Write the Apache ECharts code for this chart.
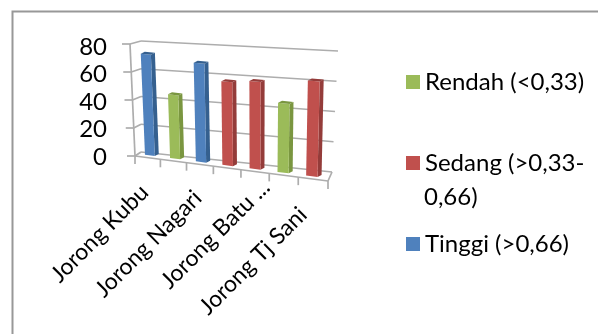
<!DOCTYPE html>
<html>
<head>
<meta charset="utf-8">
<style>html,body{margin:0;padding:0;background:#fff}#c{width:598px;height:334px}</style>
<script src="https://cdn.jsdelivr.net/npm/echarts@6/dist/echarts.min.js"></script>
</head>
<body>
<div id="c"></div>
<script>
// Categories along the depth-skewed floor; only every other one carries a label.
const categories = ['Jorong Kubu', 'b2', 'Jorong Nagari', 'b4', 'Jorong Batu ...', 'b6', 'Jorong Tj Sani'];
const xLabels = ['Jorong Kubu', '', 'Jorong Nagari', '', 'Jorong Batu ...', '', 'Jorong Tj Sani'];
const rendah = [null, 45, null, null, null, 47, null];
const sedang = [null, null, null, 58, 60, null, 64];
const tinggi = [72, null, 69, null, null, null, null];
const yTicks = [0, 20, 40, 60, 80];

const FONT = 'Lato';
const FONT_SIZE = 24;
const gridBox = { left: 140, top: 47, width: 189, height: 110 };
// Hand placement of the slanted category labels, in pixels from the floor tick.
const labelNudge = { 0: [-3, 31], 2: [-2, 30], 4: [11, 12], 6: [-10, 32] };

// A plane is a four-corner quad; (t, s) in the unit square is mapped bilinearly on it.
// The horizontal coordinate is bent a little so spacing widens toward the viewer.
function planeMap(lb, rb, lt, rt) {
  return function (t0, s) {
    const t = t0 - 0.092 * t0 * (1 - t0);
    const bx = lb[0] + (rb[0] - lb[0]) * t, by = lb[1] + (rb[1] - lb[1]) * t;
    const tx = lt[0] + (rt[0] - lt[0]) * t, ty = lt[1] + (rt[1] - lt[1]) * t;
    return [bx + (tx - bx) * s, by + (ty - by) * s];
  };
}
const barPlane = planeMap([137.5, 153.75], [326.5, 178.25], [132.5, 42], [329.5, 58.5]);
const backWall = planeMap([141, 152], [332, 172], [141, 41], [338, 51]);
const sideWall = planeMap([135, 156], [141, 152], [130, 44], [141, 41]);
const floorTop = planeMap([135, 156], [328, 181], [141, 152], [332, 172]);

// Converts a data pair to unit-square coordinates through the cartesian axes.
function toUnit(api, params, cat, val) {
  const p = api.coord([cat, val]);
  const cs = params.coordSys;
  return [(p[0] - cs.x) / cs.width, (cs.y + cs.height - p[1]) / cs.height];
}

function poly(points, fill) {
  return { type: 'polygon', shape: { points: points }, style: { fill: fill, stroke: null } };
}
function seg(a, b, color, w) {
  return { type: 'line', shape: { x1: a[0], y1: a[1], x2: b[0], y2: b[1] }, style: { stroke: color, lineWidth: w } };
}

// Draws one bar as a front face, right side and top cap.
function barRenderer(front, side) {
  return function (params, api) {
    const cat = api.value(0), val = api.value(1);
    const b = toUnit(api, params, cat, 0), h = toUnit(api, params, cat, val);
    const half = 5.3 / gridBox.width;
    const bl = barPlane(b[0] - half, 0), br = barPlane(b[0] + half, 0);
    const tl = barPlane(b[0] - half, h[1]), tr = barPlane(b[0] + half, h[1]);
    const dx = 4, dy = -2;
    const off = p => [p[0] + dx, p[1] + dy];
    return {
      type: 'group',
      children: [
        poly([br, tr, off(tr), off(br)], side),
        poly([bl, br, tr, tl], front),
        poly([tl, tr, off(tr), off(tl)], side)
      ]
    };
  };
}

// Wall gridlines, floor outline, tick marks and the slanted category labels.
function frameRenderer(params, api) {
  const GRID = '#adadad', W = 1.7, n = categories.length, kids = [];
  yTicks.forEach(v => {
    const s = toUnit(api, params, 0, v)[1];
    kids.push(seg(backWall(0, s), backWall(1, s), GRID, W));
    kids.push(seg(sideWall(0, s), sideWall(1, s), GRID, W));
    const a = sideWall(0, s);
    kids.push(seg([a[0] - 8, a[1]], a, GRID, W));
  });
  kids.push(seg(sideWall(0, 0), sideWall(0, 1), GRID, W));
  kids.push(seg(floorTop(0, 0), floorTop(1, 0), GRID, W));
  kids.push(seg(floorTop(1, 0), floorTop(1, 1), GRID, W));
  for (let i = 0; i <= n; i++) {
    const t = (toUnit(api, params, i < n ? i : n - 1, 0)[0] * gridBox.width + (i < n ? -13.5 : 13.5)) / gridBox.width;
    const p = floorTop(t, 0);
    kids.push(seg(p, [p[0], p[1] + 8], GRID, W));
  }
  xLabels.forEach((label, i) => {
    if (!label) return;
    const t = toUnit(api, params, i, 0)[0];
    const p = floorTop(t, 0);
    const nudge = labelNudge[i];
    kids.push({
      type: 'text', x: p[0] + nudge[0], y: p[1] + nudge[1], rotation: Math.PI / 4,
      style: { text: label, font: '23px ' + FONT, fill: '#000', align: 'right', verticalAlign: 'middle' }
    });
  });
  return { type: 'group', children: kids };
}

const pairs = arr => arr.map((v, i) => [i, v]).filter(d => d[1] !== null);
const barSeries = (name, values, front, side) => ({
  name, type: 'custom', coordinateSystem: 'cartesian2d', z: 3,
  itemStyle: { color: front }, data: pairs(values),
  renderItem: barRenderer(front, side), encode: { x: 0, y: 1 }, clip: false
});
const legendItem = (name, top, text) => ({
  show: true, left: 401, top: top, icon: 'rect', itemWidth: 14, itemHeight: 14, itemGap: 8, data: [name],
  formatter: () => text, selectedMode: false,
  textStyle: { fontFamily: FONT, fontSize: FONT_SIZE, color: '#000', padding: [4, 0, 0, 0] }
});

const chart = echarts.init(document.getElementById('c'), null, { renderer: 'canvas' });
chart.setOption({
  animation: false,
  backgroundColor: '#fff',
  grid: gridBox,
  xAxis: { type: 'category', data: categories, axisLine: { show: false }, axisTick: { show: false }, axisLabel: { show: false }, splitLine: { show: false } },
  yAxis: {
    type: 'value', min: 0, max: 80, interval: 20,
    axisLine: { show: false }, axisTick: { show: false }, splitLine: { show: false },
    axisLabel: { fontFamily: FONT, fontSize: FONT_SIZE, color: '#000', margin: 33 }
  },
  legend: [
    legendItem('Rendah (<0,33)', 65, 'Rendah (<0,33)'),
    legendItem('Sedang (>0,33-0,66)', 146, 'Sedang (>0,33-'),
    legendItem('Tinggi (>0,66)', 227, 'Tinggi (>0,66)')
  ],
  graphic: [
    { type: 'rect', shape: { x: 12.5, y: 11.5, width: 700, height: 400 }, style: { fill: null, stroke: '#989898', lineWidth: 2 }, z: 0 },
    { type: 'text', left: 424, top: 185, style: { text: '0,66)', font: FONT_SIZE + 'px ' + FONT, fill: '#000' } }
  ],
  series: [
    { name: 'frame', type: 'custom', coordinateSystem: 'cartesian2d', z: 1, silent: true, data: [[0, 0]], renderItem: frameRenderer, clip: false },
    barSeries('Rendah (<0,33)', rendah, '#9bbb59', '#7a9640'),
    barSeries('Sedang (>0,33-0,66)', sedang, '#c0504d', '#943c3a'),
    barSeries('Tinggi (>0,66)', tinggi, '#4f81bd', '#35608f')
  ]
});
</script>
</body>
</html>
